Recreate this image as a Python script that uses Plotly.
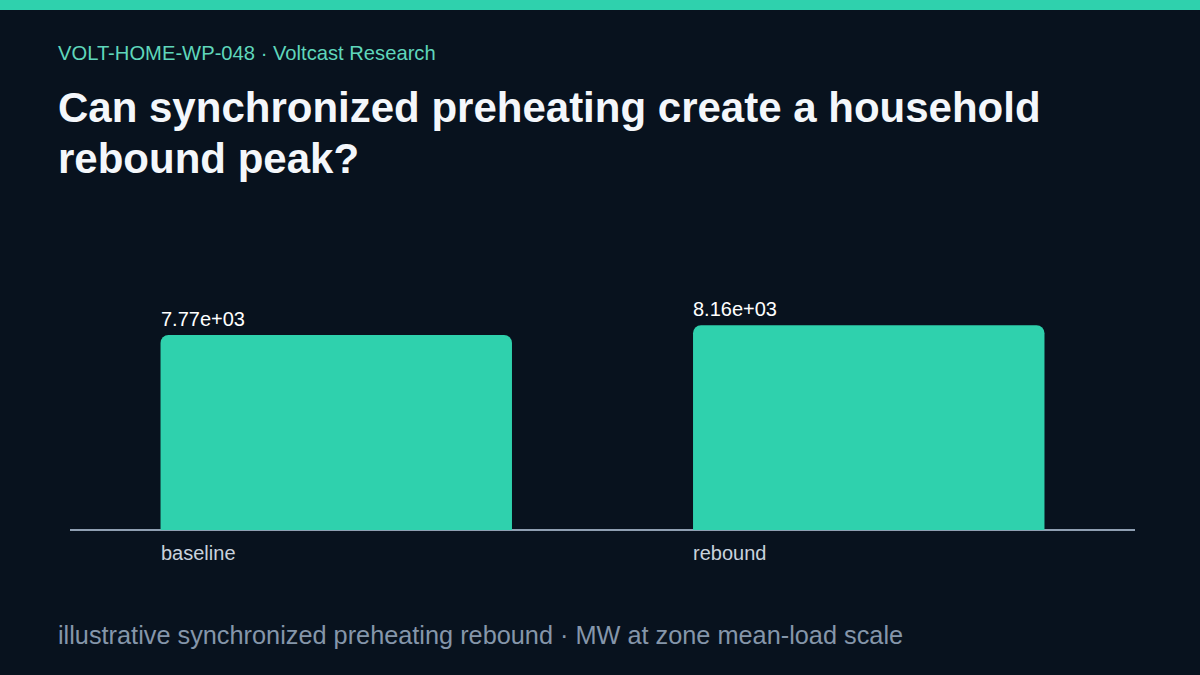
import plotly.graph_objects as go

categories = ["baseline", "rebound"]
values = [7770, 8160]
value_labels = [f"{v:.3g}" for v in values]

subtitle = "VOLT-HOME-WP-048 · Voltcast Research"
title_lines = ["Can synchronized preheating create a household", "rebound peak?"]
footer = "illustrative synchronized preheating rebound · MW at zone mean-load scale"

BG = "#08121e"
TEAL = "#2fd1ad"
FONT = "Liberation Sans, Arial, sans-serif"
W, H = 1200, 675
ML, MR, MT, MB = 70, 65, 230, 145
PW, PH = W - ML - MR, H - MT - MB
BAR_W = 0.66


def px_x(x):
    return (x - ML) / PW


def px_y(y):
    return (H - MB - y) / PH


xs = list(range(len(categories)))

fig = go.Figure()
fig.add_trace(go.Bar(
    x=xs, y=values, width=BAR_W,
    marker=dict(color=TEAL, line=dict(width=0)),
    hoverinfo="skip",
))

annotations = []
for i, (c, v, lab) in enumerate(zip(categories, values, value_labels)):
    annotations.append(dict(
        x=i - BAR_W / 2, y=v, xref="x", yref="y", text=lab, showarrow=False,
        xanchor="left", yanchor="bottom", yshift=3, xshift=-2,
        font=dict(family=FONT, size=20, color="#ffffff"),
    ))
    annotations.append(dict(
        x=i - BAR_W / 2, y=0, xref="x", yref="y", text=c, showarrow=False,
        xanchor="left", yanchor="top", yshift=-10, xshift=-2,
        font=dict(family=FONT, size=20, color="#c9d2dd"),
    ))

annotations.append(dict(
    x=px_x(56), y=px_y(53), xref="paper", yref="paper", text=subtitle, showarrow=False,
    xanchor="left", yanchor="middle",
    font=dict(family=FONT, size=20.2, color="#5fd6bb"),
))
for k, line in enumerate(title_lines):
    annotations.append(dict(
        x=px_x(56), y=px_y(107 + 51 * k), xref="paper", yref="paper",
        text="<b>" + line + "</b>",
        showarrow=False, xanchor="left", yanchor="middle", align="left",
        font=dict(family=FONT, size=42, color="#f4f7fb"),
    ))
annotations.append(dict(
    x=px_x(56), y=px_y(635), xref="paper", yref="paper", text=footer, showarrow=False,
    xanchor="left", yanchor="middle",
    font=dict(family=FONT, size=25.3, color="#8596aa"),
))

fig.update_layout(
    width=W, height=H,
    paper_bgcolor=BG, plot_bgcolor=BG,
    margin=dict(l=ML, r=MR, t=MT, b=MB, pad=0),
    barcornerradius=8,
    showlegend=False,
    xaxis=dict(range=[-0.5, len(categories) - 0.5], showgrid=False, zeroline=False,
               showticklabels=False, showline=False, fixedrange=True),
    yaxis=dict(range=[0, values[0] * PH / 195], showgrid=False, zeroline=True,
               zerolinecolor="#8f9fb2", zerolinewidth=1.5,
               showticklabels=False, showline=False, fixedrange=True),
    annotations=annotations,
    shapes=[dict(type="rect", xref="paper", yref="paper",
                 x0=px_x(0), x1=px_x(W), y0=px_y(10), y1=px_y(0),
                 fillcolor=TEAL, line=dict(width=0), layer="above")],
)

fig.write_html(
    "out.html",
    config={"displayModeBar": False},
    post_script="document.body.style.margin='0';document.body.style.background='#08121e';",
)
